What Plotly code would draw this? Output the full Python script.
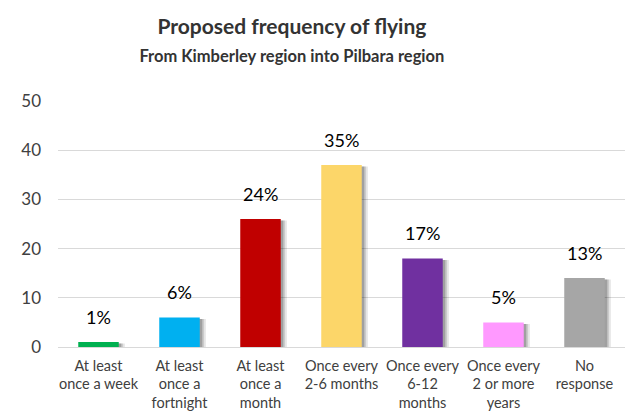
import plotly.graph_objects as go

categories = ["At least<br>once a week", "At least<br>once a<br>fortnight", "At least<br>once a<br>month",
              "Once every<br>2-6 months", "Once every<br>6-12<br>months", "Once every<br>2 or more<br>years",
              "No<br>response"]
counts = [1, 6, 26, 37, 18, 5, 14]
pct_labels = ["1%", "6%", "24%", "35%", "17%", "5%", "13%"]
colors = ["#00b050", "#00b0f0", "#c00000", "#fcd669", "#7030a0", "#ff99ff", "#a6a6a6"]
y_ticks = [0, 10, 20, 30, 40, 50]

FONT = "Lato"
fig = go.Figure()

# soft drop shadows
for off, alpha in [(0.075, 0.10), (0.05, 0.14), (0.03, 0.18)]:
    fig.add_trace(go.Bar(x=categories, y=counts, base=-0.3, width=0.5, offset=-0.25 + off,
                         marker=dict(color=f"rgba(0,0,0,{alpha})", line=dict(width=0)),
                         hoverinfo="skip", showlegend=False))

fig.add_trace(go.Bar(x=categories, y=counts, width=0.5, offset=-0.25,
                     marker=dict(color=colors, line=dict(width=0)), showlegend=False))

for c, v, t in zip(categories, counts, pct_labels):
    fig.add_annotation(x=c, y=v, text=t, showarrow=False, yanchor="bottom", yshift=12,
                       font=dict(family=FONT, size=18, color="#000000"))

fig.update_layout(
    width=625, height=414,
    margin=dict(l=58, r=0, t=101, b=67),
    paper_bgcolor="white", plot_bgcolor="white",
    barmode="overlay",
    title=dict(text="<b>Proposed frequency of flying</b><br><span style='font-size:16.5px'><b>From Kimberley region into Pilbara region</b></span>",
               x=0.467, xanchor="center", y=0.917, yanchor="top",
               font=dict(family=FONT, size=21, color="#333333")),
    xaxis=dict(showgrid=False, showline=False, ticks="", tickfont=dict(family=FONT, size=14.5, color="#404040"),
               range=[-0.5, 6.5], ticklabelstandoff=8),
    yaxis=dict(range=[0, 50], tickvals=y_ticks, showgrid=True, gridcolor="#d9d9d9", gridwidth=1,
               zeroline=True, zerolinecolor="#d9d9d9", zerolinewidth=1, showline=False,
               tickfont=dict(family=FONT, size=17, color="#404040"), ticklabelstandoff=16),
)

fig.write_html("out.html")
